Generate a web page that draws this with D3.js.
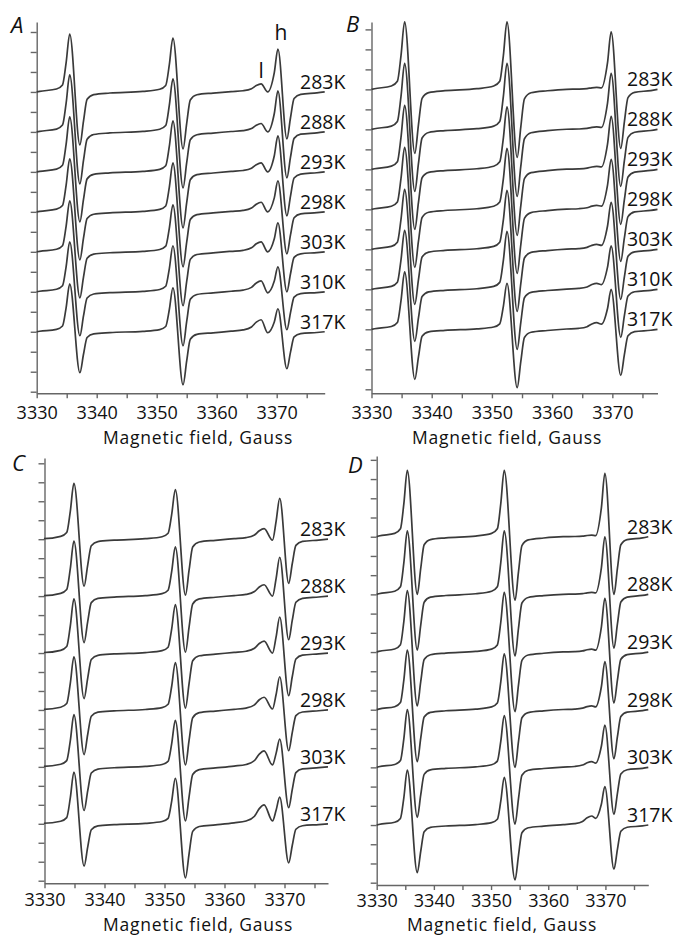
<!DOCTYPE html>
<html>
<head>
<meta charset="utf-8">
<script src="https://cdn.jsdelivr.net/npm/d3@7"></script>
<style>
  body { margin: 0; background: #fff; }
  text { font-family: "Open Sans", sans-serif; fill: #111; }
  .axis path, .axis line { stroke: #666; stroke-width: 1.4; }
  .trace { fill: none; stroke: #3a3a3a; stroke-width: 1.7; }
</style>
</head>
<body>
<script>
const xTicks = [3330, 3335, 3340, 3345, 3350, 3355, 3360, 3365, 3370, 3375]

const tempsA = ['283K', '288K', '293K', '298K', '303K', '310K', '317K']
const tempsB = ['283K', '288K', '293K', '298K', '303K', '310K', '317K']
const tempsC = ['283K', '288K', '293K', '298K', '303K', '317K']
const tempsD = ['283K', '288K', '293K', '298K', '303K', '317K']

// baseline of each trace, in y-axis units
const baseAB = [15, 13, 11, 9, 7, 5, 3]
const baseCD = [18, 15, 12, 9, 6, 3]

// field (G) of extrema: max1, min1, max2, min2, l max, l dip, h max, h min
const peakFieldA = [3335.5, 3337.2, 3352.7, 3354.4, 3367.4, 3368.5, 3370.2, 3371.7]
const peakFieldB = [3335.5, 3337.2, 3352.5, 3354.2, 3367.4, 3368.2, 3369.8, 3371.4]
const peakFieldC = [3334.9, 3336.6, 3351.8, 3353.5, 3366.6, 3368.0, 3369.2, 3370.7]
const peakFieldD = [3335.35, 3337.1, 3352.3, 3354.2, 3367.6, 3368.3, 3369.9, 3371.5]

// signal at those extrema, one row per temperature
const peakValA = [
  [2.9, -2.65, 2.7, -2.85, 0.4, 0.0, 2.15, -2.35],
  [2.85, -2.6, 2.65, -2.8, 0.42, 0.0, 2.05, -2.3],
  [2.75, -2.5, 2.55, -2.8, 0.45, 0.0, 1.8, -2.2],
  [2.65, -2.4, 2.45, -2.75, 0.48, 0.0, 1.55, -2.1],
  [2.55, -2.3, 2.35, -2.7, 0.5, 0.0, 1.45, -2.0],
  [2.5, -2.2, 2.3, -2.7, 0.55, -0.05, 1.25, -1.9],
  [2.4, -2.05, 2.2, -2.65, 0.6, -0.05, 1.15, -1.85]
]
const peakValB = [
  [3.38, -3.2, 3.38, -3.4, 0.1, 0.08, 2.88, -2.95],
  [3.3, -3.1, 3.3, -3.35, 0.12, 0.1, 2.8, -2.85],
  [3.2, -3.0, 3.13, -3.3, 0.15, 0.12, 2.65, -2.75],
  [3.1, -2.9, 3.05, -3.2, 0.2, 0.16, 2.5, -2.6],
  [3.0, -2.75, 2.95, -3.1, 0.25, 0.2, 2.35, -2.5],
  [2.95, -2.6, 2.9, -3.0, 0.3, 0.24, 2.17, -2.4],
  [2.87, -2.5, 2.3, -2.92, 0.33, 0.26, 2.0, -2.3]
]
const peakValC = [
  [2.94, -2.48, 2.62, -2.95, 0.56, -0.05, 2.15, -2.33],
  [2.9, -2.45, 2.6, -2.95, 0.6, 0.0, 2.05, -2.3],
  [2.85, -2.4, 2.55, -2.9, 0.63, 0.0, 1.9, -2.25],
  [2.8, -2.35, 2.5, -2.9, 0.67, 0.05, 1.75, -2.15],
  [2.75, -2.3, 2.45, -2.85, 0.84, 0.1, 1.46, -2.15],
  [2.72, -2.23, 2.39, -2.85, 1.0, 0.15, 1.4, -2.06]
]
const peakValD = [
  [3.45, -3.0, 3.45, -3.3, 0.08, 0.06, 3.3, -3.0],
  [3.3, -2.9, 3.3, -3.2, 0.1, 0.08, 3.0, -2.8],
  [3.2, -2.8, 3.1, -3.1, 0.15, 0.1, 2.8, -2.65],
  [3.1, -2.7, 2.9, -3.0, 0.2, 0.15, 2.5, -2.55],
  [3.0, -2.6, 2.7, -2.95, 0.3, 0.22, 2.2, -2.45],
  [2.86, -2.48, 2.48, -2.86, 0.47, 0.35, 2.0, -2.3]
]

// line-shape tails (offset in G from the extremum, fraction of its height)
const preOff = [-5, -2.2, -1.2, -0.6]
const preFrac = [0.01, 0.05, 0.12, 0.5]
const postOff = [0.6, 1.2, 2.3, 5]
const postFrac = [0.55, 0.14, 0.05, 0.02]
const lPreOff = [-5, -3, -1.6, -0.8]
const lPreFrac = [0.05, 0.15, 0.4, 0.8]

const panels = [
  { name: 'A', temps: tempsA, base: baseAB, field: peakFieldA, val: peakValA,
    xDom: [3330, 3378], xRng: [36.7, 324.7], yDom: [-0.08, 18.5], yRng: [393.3, 22], yTicks: 18,
    tempX: 300, title: [198, 444], letter: [11, 33], pad: 8, lh: true },
  { name: 'B', temps: tempsB, base: baseAB, field: peakFieldB, val: peakValB,
    xDom: [3330, 3377.5], xRng: [371.5, 657.5], yDom: [-0.2, 18.37], yRng: [393.3, 22], yTicks: 18,
    tempX: 627, title: [507, 444], letter: [346, 32], pad: 8 },
  { name: 'C', temps: tempsC, base: baseCD, field: peakFieldC, val: peakValC,
    xDom: [3330, 3377.25], xRng: [44.5, 328], yDom: [-0.137, 22.28], yRng: [883.3, 458], yTicks: 22,
    tempX: 300, title: [198, 931], letter: [12, 471], pad: 5 },
  { name: 'D', temps: tempsD, base: baseCD, field: peakFieldD, val: peakValD,
    xDom: [3330, 3377.5], xRng: [376.7, 648.3], yDom: [-0.12, 22.2], yRng: [885, 456], yTicks: 22,
    tempX: 627, title: [502, 931], letter: [348, 473], pad: 4 }
]

const tracePoints = (f, v, dom) => {
  const pts = [[dom[0], 0]]
  const addLine = (fm, vm, fn, vn) => {
    preOff.forEach((o, i) => pts.push([fm + o, vm * preFrac[i]]))
    pts.push([fm, vm], [fn, vn])
    postOff.forEach((o, i) => pts.push([fn + o, vn * postFrac[i]]))
  }
  addLine(f[0], v[0], f[1], v[1])
  addLine(f[2], v[2], f[3], v[3])
  lPreOff.forEach((o, i) => pts.push([f[4] + o, v[4] * lPreFrac[i]]))
  pts.push([f[4], v[4]], [f[5], v[5]])
  pts.push([f[6] - 0.6, v[5] + 0.45 * (v[6] - v[5])])
  pts.push([f[6], v[6]], [f[7], v[7]])
  postOff.forEach((o, i) => pts.push([f[7] + o, v[7] * postFrac[i]]))
  pts.push([dom[1], 0])
  return pts
}

const svg = d3.select('body').append('svg')
  .attr('width', 675)
  .attr('height', 937)

panels.forEach(p => {
  const x = d3.scaleLinear().domain(p.xDom).range(p.xRng)
  const y = d3.scaleLinear().domain(p.yDom).range(p.yRng)
  const g = svg.append('g')

  g.append('g')
    .attr('class', 'axis')
    .attr('transform', `translate(0,${p.yRng[0]})`)
    .call(d3.axisBottom(x).tickValues(xTicks.filter(t => t <= p.xDom[1]))
      .tickSize(5).tickSizeOuter(0).tickPadding(p.pad)
      .tickFormat(d => d % 10 === 0 ? d : ''))
    .call(a => a.selectAll('text').attr('font-size', 18).attr('font-family', '"Open Sans", sans-serif').attr('fill', '#111'))

  g.append('g')
    .attr('class', 'axis')
    .attr('transform', `translate(${p.xRng[0]},0)`)
    .call(d3.axisLeft(y).tickValues(d3.range(0, p.yTicks + 1))
      .tickSize(6).tickSizeOuter(0).tickFormat(''))

  const line = d3.line()
    .x(d => x(d[0]))
    .y(d => y(d[1]))
    .curve(d3.curveMonotoneX)

  p.val.forEach((v, i) => {
    const b = p.base[i]
    g.append('path')
      .attr('class', 'trace')
      .attr('d', line(tracePoints(p.field, v, p.xDom).map(d => [d[0], d[1] + b])))
  })

  p.temps.forEach((t, i) => {
    g.append('text')
      .attr('x', p.tempX)
      .attr('y', y(p.base[i]) - 3)
      .attr('font-size', 19.5)
      .text(t)
  })

  g.append('text')
    .attr('x', p.title[0])
    .attr('y', p.title[1])
    .attr('text-anchor', 'middle')
    .attr('font-size', 17.5)
    .attr('letter-spacing', 0.8)
    .text('Magnetic field, Gauss')

  g.append('text')
    .attr('x', p.letter[0])
    .attr('y', p.letter[1])
    .attr('font-size', 22)
    .attr('font-style', 'italic')
    .text(p.name)

  if (p.lh) {
    const b = p.base[0]
    g.append('text')
      .attr('x', x(p.field[4]))
      .attr('y', y(b + p.val[0][4]) - 6)
      .attr('text-anchor', 'middle')
      .attr('font-size', 21)
      .text('l')
    g.append('text')
      .attr('x', x(p.field[6]) + 3)
      .attr('y', y(b + p.val[0][6]) - 9)
      .attr('text-anchor', 'middle')
      .attr('font-size', 21)
      .text('h')
  }
})
</script>
</body>
</html>
